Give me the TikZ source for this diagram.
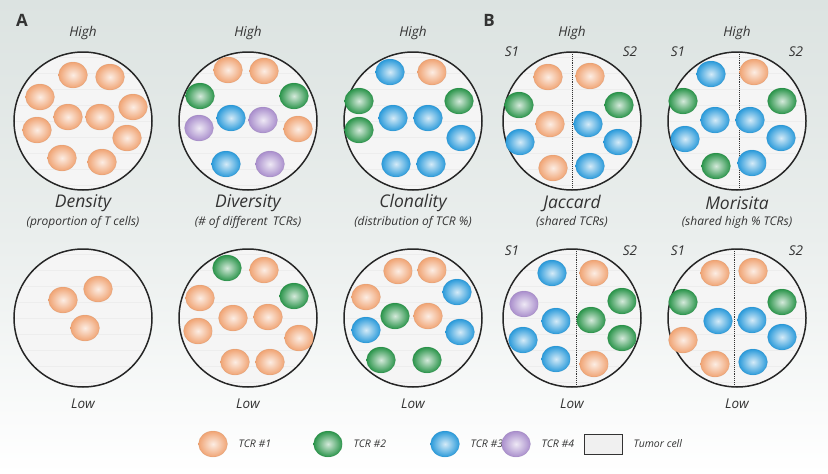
\documentclass[tikz,border=0pt]{standalone}
\usepackage{fontspec}
\setmainfont{Open Sans}
\usetikzlibrary{shadings,shapes.geometric}
\definecolor{cOr}{HTML}{F0A474}
\definecolor{cGr}{HTML}{2A944A}
\definecolor{cBl}{HTML}{2A9ADA}
\definecolor{cPu}{HTML}{A98ECC}
\definecolor{bgTop}{HTML}{DCE3E1}
\definecolor{txt}{HTML}{333333}
\tikzset{
 cell/.style={ellipse,minimum width=29pt,minimum height=26pt,inner sep=0pt,inner color=white!80!#1,outer color=#1,draw=#1!80!black,draw opacity=0.3},
 org/.style={cell=cOr},grn/.style={cell=cGr},blu/.style={cell=cBl},pur/.style={cell=cPu},
 tum/.style={circle,minimum size=138pt,draw=black!85,line width=1.5pt,fill=black!4,inner sep=0pt},
 lab/.style={font=\itshape\fontsize{13.5}{15}\selectfont,text=txt},
 ttl/.style={font=\itshape\fontsize{17.5}{19}\selectfont,text=txt},
 sub/.style={font=\itshape\fontsize{12}{13}\selectfont,text=txt},
 leg/.style={font=\itshape\fontsize{10.5}{12}\selectfont,text=txt,anchor=west},
 sep/.style={densely dotted,line width=0.9pt,black!80}
}
\newcommand{\tumor}[3]{%
 \node[tum] (#1) at (#2,#3) {};
 \begin{scope}
 \clip (#2,#3) circle (68);
 \foreach \yy in {-64,-48,...,64}{\draw[black!7] (#2-70,#3+\yy) -- (#2+70,#3+\yy);}
 \end{scope}}
\newcommand{\cells}[2]{\foreach \s/\x/\y [count=\i] in {#2}{\node[\s] (#1\i) at (\x,\y) {};}}
\begin{document}
\begin{tikzpicture}[x=1pt,y=-1pt]
\shade[top color=bgTop,bottom color=white,middle color=bgTop!60!white] (0,0) rectangle (828,474);
\useasboundingbox (0,0) rectangle (828,474);
\node[font=\bfseries\fontsize{17}{18}\selectfont,text=txt] (A) at (22,20) {A};
\node[font=\bfseries\fontsize{17}{18}\selectfont,text=txt] (B) at (489,20) {B};
\tumor{t1}{83}{121}\tumor{t2}{248}{121}\tumor{t3}{413}{121}\tumor{t4}{572}{121}\tumor{t5}{737}{121}
\tumor{u1}{83}{318}\tumor{u2}{248}{318}\tumor{u3}{413}{318}\tumor{u4}{572}{318}\tumor{u5}{737}{318}
\coordinate (d1a) at (572,52);\coordinate (d1b) at (572,190);
\coordinate (d2a) at (739,52);\coordinate (d2b) at (739,190);
\coordinate (d3a) at (576,249);\coordinate (d3b) at (576,387);
\coordinate (d4a) at (734,249);\coordinate (d4b) at (734,387);
\draw[sep] (d1a)--(d1b); \draw[sep] (d2a)--(d2b); \draw[sep] (d3a)--(d3b); \draw[sep] (d4a)--(d4b);
\cells{a}{org/73/75,org/110/77,org/40/97,org/68/117,org/100/117,org/133/107,org/37/130,org/127/138,org/62/158,org/102/162}
\cells{b}{org/228/70,org/264/71,grn/200/96,grn/294/96,blu/231/118,pur/263/120,pur/199/128,org/298/129,blu/226/164,pur/270/164}
\cells{c}{blu/390/72,org/432/72,grn/359/101,grn/459/101,blu/393/118,blu/428/118,blu/461/138,grn/359/130,blu/396/164,blu/431/164}
\cells{d}{org/548/77,grn/519/105,org/550/124,blu/520/142,org/553/168,org/590/76,grn/619/105,blu/588/124,blu/618/142,blu/590/166}
\cells{e}{blu/711/74,org/754/72,grn/683/101,grn/782/101,blu/685/139,blu/715/120,blu/750/120,blu/781/138,grn/716/166,blu/752/163}
\cells{f}{org/63/300,org/98/289,org/85/328}
\cells{g}{grn/227/268,org/264/270,org/200/298,grn/294/296,org/198/331,org/233/318,org/268/317,org/299/338,org/235/362,org/270/362}
\cells{h}{org/398/271,org/432/270,org/366/297,blu/457/292,blu/366/330,grn/395/316,org/428/316,blu/460/332,grn/381/360,grn/427/360}
\cells{k}{blu/552/273,pur/524/304,blu/556/321,blu/523/340,blu/556/359,org/594/273,grn/622/301,grn/591/320,grn/622/338,org/594/364}
\cells{m}{org/715/273,org/753/271,grn/683/302,blu/718/321,org/683/340,org/715/364,grn/782/302,blu/752/320,blu/782/337,blu/753/362}
\foreach \x/\n in {83/1,248/2,413/3,572/4,737/5}{\node[lab] (hi\n) at (\x,33) {High};}
\foreach \x/\n in {83/1,248/2,413/3,572/4,737/5}{\node[lab] (lo\n) at (\x,404) {Low};}
\foreach \x/\n in {512/1,678/2}{\node[lab] (sa\n) at (\x,52) {S1}; \node[lab] (sb\n) at (\x+118,52) {S2};
 \node[lab] (sc\n) at (\x,251) {S1}; \node[lab] (sd\n) at (\x+118,251) {S2};}
\node[ttl] (T1) at (83,203) {Density};
\node[ttl] (T2) at (248,203) {Diversity};
\node[ttl] (T3) at (413,203) {Clonality};
\node[ttl] (T4) at (572,203) {Jaccard};
\node[ttl] (T5) at (737,203) {Morisita};
\node[sub] (S1) at (83,222) {(proportion of T cells)};
\node[sub] (S2) at (248,222) {(\# of different\, TCRs)};
\node[sub] (S3) at (413,222) {(distribution of TCR \%)};
\node[sub] (S4) at (572,222) {(shared TCRs)};
\node[sub] (S5) at (737,222) {(shared high \% TCRs)};
\node[org] (L1) at (213,444) {}; \node[leg] (l1) at (235,444) {TCR \#1};
\node[grn] (L2) at (328,444) {}; \node[leg] (l2) at (350,444) {TCR \#2};
\node[blu] (L3) at (445,444) {}; \node[leg] (l3) at (467,444) {TCR \#3};
\node[pur] (L4) at (516,444) {}; \node[leg] (l4) at (538,444) {TCR \#4};
\node[draw=black!80,line width=0.8pt,fill=black!6,minimum width=38pt,minimum height=20pt,inner sep=0pt] (L5) at (603,444) {};
\node[leg] (l5) at (630,444) {Tumor cell};
\end{tikzpicture}
\end{document}
